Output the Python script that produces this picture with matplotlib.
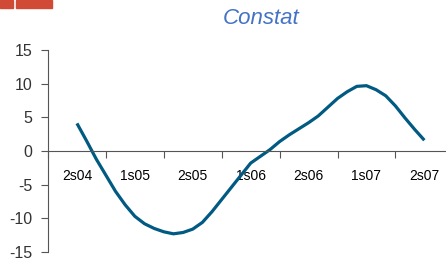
import numpy as np
import matplotlib
matplotlib.use('Agg')
from matplotlib import pyplot as plt
from matplotlib.patches import Rectangle

# half-year categories, monthly series starting at the middle of 2s04
categories = ['2s04', '1s05', '2s05', '1s06', '2s06', '1s07', '2s07']
values = [4.1, 1.5, -1.2, -3.6, -6.0, -8.0, -9.7, -10.8, -11.5, -12.0, -12.3, -12.1,
          -11.6, -10.6, -9.0, -7.2, -5.4, -3.6, -1.8, -0.8, 0.2, 1.4, 2.4, 3.3,
          4.2, 5.2, 6.5, 7.8, 8.8, 9.6, 9.7, 9.1, 8.2, 6.7, 4.9, 3.2, 1.6]
yticks = [-15, -10, -5, 0, 5, 10, 15]

plt.rcParams['font.family'] = ['Liberation Sans', 'DejaVu Sans']

fig = plt.figure(figsize=(4.46, 2.59), dpi=100)
ax = fig.add_axes([48 / 446, 1 - 252 / 259, 1 - 48 / 446, 202 / 259])

months = np.arange(len(values))
ax.plot(months, values, color='#005a82', lw=2.3, solid_capstyle='butt')

ax.set_yticks(yticks)
ax.set_yticklabels([str(v) for v in yticks], fontsize=11.5, color='#333333')

# category boundaries as major ticks, names at the centres
ax.set_xticks([6 * i - 3 for i in range(len(categories) + 1)])
ax.set_xticklabels([])
ax.set_xticks([6 * i for i in range(len(categories))], minor=True)
ax.set_xticklabels(categories, minor=True, fontsize=11.5, color='#333333')
ax.tick_params(axis='x', which='major', direction='out', length=5, color='#555555')
ax.tick_params(axis='x', which='minor', length=0, pad=13)
ax.tick_params(axis='y', direction='out', length=5, color='#555555', pad=6)

ax.set_ylim(-15, 15)
ax.set_xlim(-3, -3 + 398 / 9.65)

ax.spines['bottom'].set_position(('data', 0))
ax.spines['bottom'].set_color('#555555')
ax.spines['left'].set_color('#555555')
ax.spines['top'].set_visible(False)
ax.spines['right'].set_visible(False)
ax.patch.set_alpha(0)

fig.text(261 / 446, 1 - 19 / 259, 'Constat', ha='center', va='center',
         fontsize=16, style='italic', color='#4472c4')

fig.patches.append(Rectangle((0, 1 - 8 / 259), 13 / 446, 8 / 259,
                             transform=fig.transFigure, color='#d04a35'))
fig.patches.append(Rectangle((16 / 446, 1 - 8 / 259), 36 / 446, 8 / 259,
                             transform=fig.transFigure, color='#d04a35'))

plt.savefig('out.png', dpi=100)
